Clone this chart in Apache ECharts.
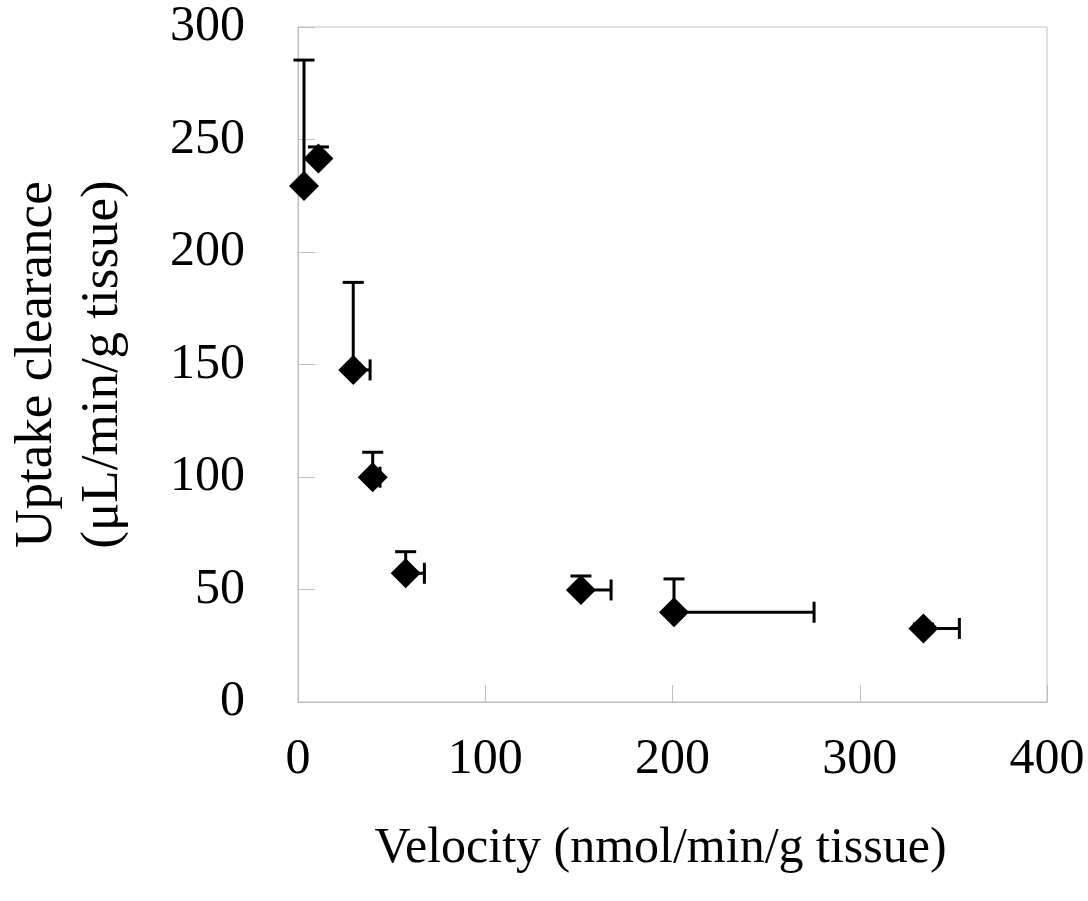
<!DOCTYPE html>
<html>
<head>
<meta charset="utf-8">
<script src="https://cdn.jsdelivr.net/npm/echarts@6/dist/echarts.min.js"></script>
<style>
  html, body { margin: 0; padding: 0; background: #ffffff; }
  #chart { width: 1088px; height: 901px; }
</style>
</head>
<body>
<div id="chart"></div>
<script>
// Velocity vs. uptake clearance, with one-sided (upper / right) error bars
const velocity  = [3.2, 10.9, 29.5, 39.9, 57.5, 151.1, 200.8, 334.0];
const clearance = [229.3, 241.6, 147.6, 99.9, 57.2, 49.8, 39.9, 32.7];
const velocityErr  = [0, 0, 9.0, 3.9, 10.0, 16.1, 74.8, 19.2];
const clearanceErr = [56.0, 5.1, 38.9, 11.1, 9.6, 6.2, 14.8, 2.0];

const xTicks = [0, 100, 200, 300, 400];
const yTicks = [0, 50, 100, 150, 200, 250, 300];

const FONT = "'Liberation Serif', 'Times New Roman', serif";
const AXIS_GRAY = '#bfbfbf';

const points = velocity.map((v, i) => [v, clearance[i]]);
const errRows = velocity.map((v, i) => [v, clearance[i], velocityErr[i], clearanceErr[i]]);

const CAP = 10.5; // half cap length in px

function renderErr(params, api) {
  const x = api.value(0), y = api.value(1);
  const dx = api.value(2), dy = api.value(3);
  const c = api.coord([x, y]);
  const children = [];
  const style = { stroke: '#000', lineWidth: 3 };
  if (dy > 0) {
    const top = api.coord([x, y + dy]);
    children.push({ type: 'line', shape: { x1: c[0], y1: c[1], x2: top[0], y2: top[1] }, style });
    children.push({ type: 'line', shape: { x1: top[0] - CAP, y1: top[1], x2: top[0] + CAP, y2: top[1] }, style });
  }
  if (dx > 0) {
    const right = api.coord([x + dx, y]);
    children.push({ type: 'line', shape: { x1: c[0], y1: c[1], x2: right[0], y2: right[1] }, style });
    children.push({ type: 'line', shape: { x1: right[0], y1: right[1] - CAP, x2: right[0], y2: right[1] + CAP }, style });
  }
  return { type: 'group', children };
}

const chart = echarts.init(document.getElementById('chart'), null, { renderer: 'canvas' });
chart.setOption({
  backgroundColor: '#ffffff',
  animation: false,
  textStyle: { fontFamily: FONT },
  grid: {
    left: 298, top: 27, right: 41, bottom: 199,
    outerBoundsMode: 'none', containLabel: false,
    show: true, borderColor: AXIS_GRAY, borderWidth: 1
  },
  xAxis: {
    type: 'value',
    min: xTicks[0], max: xTicks[xTicks.length - 1], interval: 100,
    name: 'Velocity (nmol/min/g tissue)',
    nameLocation: 'middle', nameGap: 122,
    nameTextStyle: { fontFamily: FONT, fontSize: 50, color: '#000', padding: [0, 24, 0, 0] },
    axisLine: { lineStyle: { color: AXIS_GRAY, width: 1 } },
    axisTick: { inside: true, length: 17, lineStyle: { color: AXIS_GRAY } },
    axisLabel: { fontFamily: FONT, fontSize: 50, color: '#000', margin: 33 },
    splitLine: { show: false }
  },
  yAxis: {
    type: 'value',
    min: yTicks[0], max: yTicks[yTicks.length - 1], interval: 50,
    name: 'Uptake clearance\n(μL/min/g tissue)',
    nameLocation: 'middle', nameGap: 162, nameRotate: 90,
    nameTextStyle: { fontFamily: FONT, fontSize: 53, color: '#000', lineHeight: 66, align: 'center' },
    axisLine: { lineStyle: { color: AXIS_GRAY, width: 1 } },
    axisTick: { inside: true, length: 17, lineStyle: { color: AXIS_GRAY } },
    axisLabel: { fontFamily: FONT, fontSize: 50, color: '#000', margin: 53 },
    splitLine: { show: false }
  },
  series: [
    {
      type: 'custom',
      data: errRows,
      renderItem: renderErr,
      encode: { x: 0, y: 1 },
      z: 2,
      silent: true
    },
    {
      type: 'scatter',
      data: points,
      symbol: 'diamond',
      symbolSize: 30,
      itemStyle: { color: '#000', opacity: 1 },
      z: 3
    }
  ]
});
</script>
</body>
</html>
